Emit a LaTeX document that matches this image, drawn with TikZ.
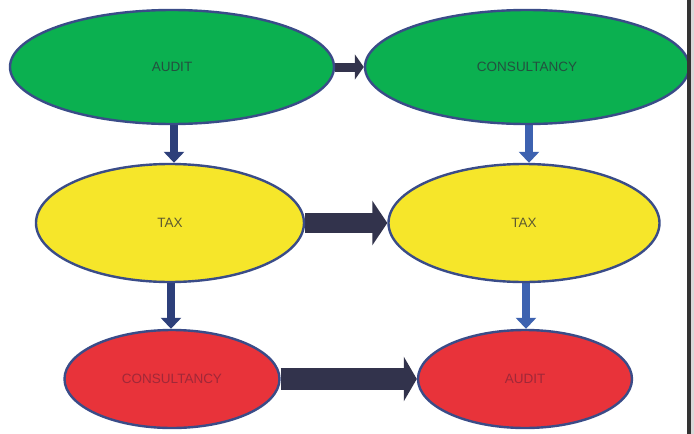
\documentclass[tikz,border=0pt]{standalone}
\usepackage{fontspec}
\setmainfont{Liberation Sans}
\usetikzlibrary{shapes.geometric,arrows.meta,backgrounds}

\definecolor{fillgreen}{HTML}{0BB050}
\definecolor{fillyellow}{HTML}{F6E62A}
\definecolor{fillred}{HTML}{E8333A}
\definecolor{rim}{HTML}{3A4C88}
\definecolor{txtgreen}{HTML}{24503F}
\definecolor{txtyellow}{HTML}{5E5A30}
\definecolor{txtred}{HTML}{A02838}
\definecolor{barnavy}{HTML}{32334C}
\definecolor{navydown}{HTML}{2D3F7A}
\definecolor{bluedown}{HTML}{3D62B0}

\tikzset{
  oval/.style={ellipse, draw=rim, line width=2.4pt, inner sep=0pt,
    font=\fontsize{13.5}{14}\selectfont},
  greenoval/.style={oval, fill=fillgreen, text=txtgreen},
  yellowoval/.style={oval, fill=fillyellow, text=txtyellow},
  redoval/.style={oval, fill=fillred, text=txtred},
  flow/.style={draw=barnavy, line width=#1},
  downarrow/.style={line width=8pt, -{Triangle[length=11pt,width=20pt]}}
}

\begin{document}
\begin{tikzpicture}[x=1pt,y=-1pt]
  \useasboundingbox (0,0) rectangle (694,434);

  % top row
  \node[greenoval, minimum width=324pt, minimum height=114pt] (g1) at (172,67) {AUDIT};
  \node[greenoval, minimum width=324pt, minimum height=114pt] (g2) at (527,67) {CONSULTANCY};
  % middle row
  \node[yellowoval, minimum width=268pt, minimum height=118pt] (y1) at (170,223) {TAX};
  \node[yellowoval, minimum width=271pt, minimum height=118pt] (y2) at (524,223) {TAX};
  % bottom row
  \node[redoval, minimum width=215pt, minimum height=98pt] (r1) at (172,379) {CONSULTANCY};
  \node[redoval, minimum width=214pt, minimum height=98pt] (r2) at (525,379) {AUDIT};

  \begin{scope}[on background layer]
    \fill[white] (0,0) rectangle (694,434);
    % horizontal connectors
    \draw[flow=9pt, -{Triangle[length=9pt,width=25pt]}] (g1.east) -- (g2.west);
    \draw[flow=20pt, -{Triangle[length=15pt,width=44pt]}] (y1.east) -- (y2.west);
    \draw[flow=22pt, -{Triangle[length=13pt,width=44pt]}] (r1.east) -- (r2.west);
    % vertical connectors
    \draw[downarrow, draw=navydown] ([xshift=2pt]g1.south) -- ([xshift=2pt]g1.south |- y1.north);
    \draw[downarrow, draw=bluedown] ([xshift=2pt]g2.south) -- ([xshift=2pt]g2.south |- y2.north);
    \draw[downarrow, draw=navydown] ([xshift=1pt]y1.south) -- ([xshift=1pt]y1.south |- r1.north);
    \draw[downarrow, draw=bluedown] ([xshift=2pt]y2.south) -- ([xshift=2pt]y2.south |- r2.north);
  \end{scope}

  % frame edge on the right
  \fill[black!80] (687,0) rectangle (691,434);
  \fill[black!15] (691,0) rectangle (694,434);
\end{tikzpicture}
\end{document}
